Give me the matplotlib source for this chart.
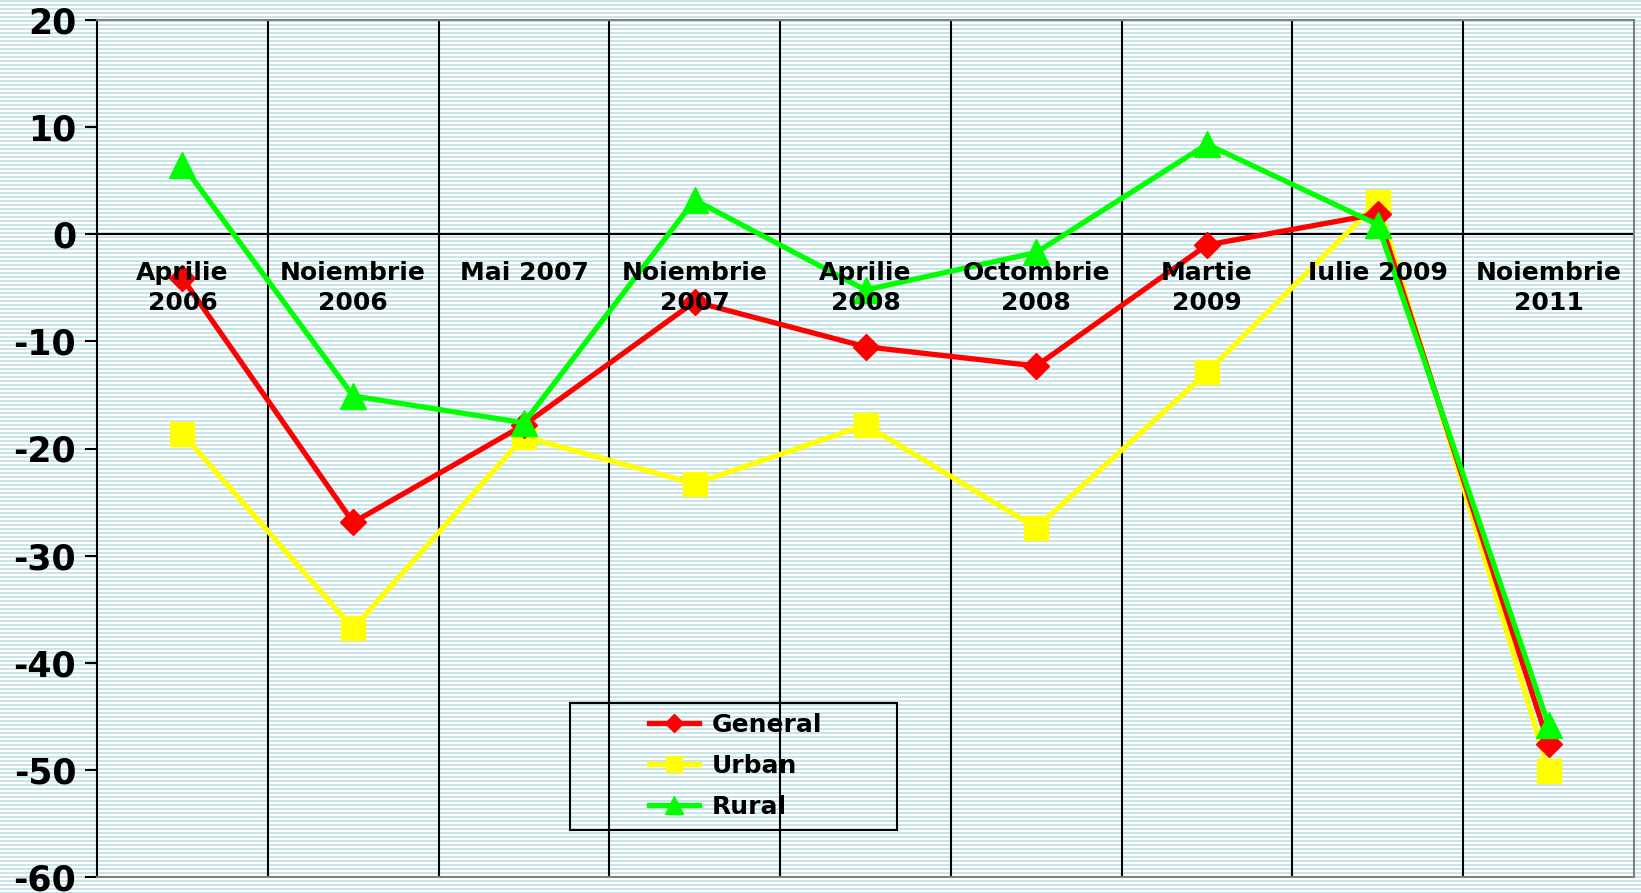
import matplotlib
matplotlib.use("Agg")
import matplotlib.pyplot as plt
from matplotlib.patches import Rectangle
import numpy as np

# 数値は画像から読み取った概算値
categories = ["Aprilie\n2006", "Noiembrie\n2006", "Mai 2007", "Noiembrie\n2007",
              "Aprilie\n2008", "Octombrie\n2008", "Martie\n2009", "Iulie 2009",
              "Noiembrie\n2011"]
general = [-4.1, -26.9, -17.8, -6.3, -10.5, -12.3, -1.0, 1.9, -47.6]
urban = [-18.6, -36.8, -18.9, -23.3, -17.8, -27.4, -12.9, 3.0, -50.1]
rural = [6.5, -15.1, -17.6, 3.2, -5.2, -1.7, 8.4, 0.9, -45.8]
y_ticks = [20, 10, 0, -10, -20, -30, -40, -50, -60]

W, H = 1641, 893
fig = plt.figure(figsize=(W / 100, H / 100), dpi=100)

# 背景の横縞パターン
stripes = np.ones((H, W, 3))
teal = np.array([200, 229, 233]) / 255
for r in range(H):
    if r % 4 in (0, 1):
        stripes[r, :, :] = teal
fig.figimage(stripes, 0, 0, zorder=-10)

ax = fig.add_axes([97 / W, 16 / H, (1634 - 97) / W, (877 - 20) / H])
ax.set_zorder(1)
ax.patch.set_alpha(0)

x = np.arange(len(categories))
ax.plot(x, general, color="#ff0000", lw=3.8, marker="D", ms=13, label="General", zorder=4)
ax.plot(x, urban, color="#ffff00", lw=3.8, marker="s", ms=17, label="Urban", zorder=3)
ax.plot(x, rural, color="#00ff00", lw=3.8, marker="^", ms=19, label="Rural", zorder=5)

ax.set_xlim(-0.5, len(categories) - 0.5)
ax.set_ylim(-60, 20)

# 区切りの縦線
for b in np.arange(0.5, len(categories) - 0.5, 1):
    ax.axvline(b, color="black", lw=1.5, zorder=1)
ax.axhline(0, color="black", lw=1.5, zorder=2)

ax.set_yticks(y_ticks)
ax.set_yticklabels([str(v) for v in y_ticks], fontsize=25, fontweight="bold")
ax.tick_params(axis="y", direction="out", length=9, width=1.5, pad=6)
ax.set_xticks([])

for xi, lab in zip(x, categories):
    ax.text(xi, -2.5, lab, ha="center", va="top", fontsize=18, fontweight="bold",
            linespacing=1.3, zorder=6)

ax.spines["left"].set_color("black")
ax.spines["left"].set_linewidth(1.5)
for s in ("top", "right", "bottom"):
    ax.spines[s].set_color("#808080")
    ax.spines[s].set_linewidth(1.5)

# 凡例の枠
ax.add_patch(Rectangle(((570 - 97) / 1537, (877 - 830) / 857), 327 / 1537, 127 / 857,
                       transform=ax.transAxes, fill=False, edgecolor="black",
                       lw=1.5, zorder=6))
leg = ax.legend(loc="center left", bbox_to_anchor=((649 - 97) / 1537, (877 - 766) / 857),
                frameon=False, prop={"size": 18, "weight": "bold"},
                handlelength=2.0, borderpad=0, borderaxespad=0, labelspacing=0.68,
                handletextpad=0.5, markerscale=0.7)
leg.set_zorder(7)

fig.savefig("out.png", dpi=100)
